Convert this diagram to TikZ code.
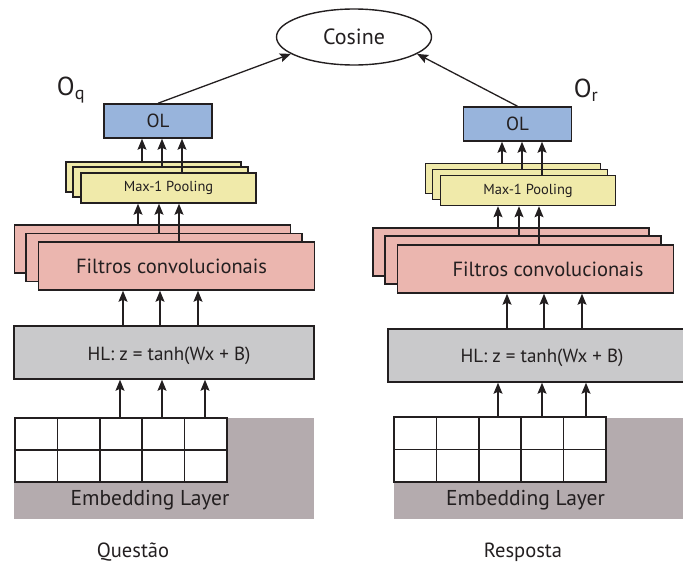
\documentclass[tikz,border=0pt]{standalone}
\usepackage{fontspec}
\setmainfont{PT Sans}
\usetikzlibrary{arrows.meta,shapes.geometric}
\definecolor{ink}{HTML}{231F20}
\definecolor{olblue}{HTML}{98B4DC}
\definecolor{poolyellow}{HTML}{F0EAAA}
\definecolor{filtpink}{HTML}{EBB6AF}
\definecolor{hlgray}{HTML}{C9C9CB}
\definecolor{embgray}{HTML}{B4ABAE}
\begin{document}
\begin{tikzpicture}[x=1pt,y=-1pt,
        box/.style={draw=ink,line width=1.5pt,inner sep=0pt,text=ink},
        olbox/.style={box,fill=olblue,minimum width=108pt,minimum height=34pt,font=\fontsize{19}{21}\selectfont},
        poolbox/.style={box,fill=poolyellow,minimum width=175pt,minimum height=30pt,font=\fontsize{14.5}{17}\selectfont},
        filtbox/.style={box,fill=filtpink,minimum width=276pt,minimum height=48pt},
        hlbox/.style={box,fill=hlgray,minimum height=53pt},
        embbox/.style={fill=embgray,inner sep=0pt,minimum height=101pt},
        cell/.style={draw=ink,line width=1.5pt,fill=white},
        txt/.style={text=ink,inner sep=0pt,font=\fontsize{20.5}{23}\selectfont},
        up/.style={draw=ink,line width=1.3pt,-{Stealth[length=11pt,width=9pt,inset=2pt]}}]
        \useasboundingbox (0,0) rectangle (683,562);
        \node[draw=ink,line width=1.4pt,ellipse,minimum width=155pt,minimum height=56pt,inner sep=0pt,txt,font=\fontsize{22}{24}\selectfont] (cosine) at (354,37) {Cosine};
        % questao
        \node[txt,font=\fontsize{26}{28}\selectfont] (oq) at (71,90) {O\textsubscript{q}};
        \node[olbox] (olq) at (158,121) {OL};
        \node[poolbox] (poolq1) at (153.5,177) {};
        \node[poolbox] (poolq2) at (160.5,182) {};
        \node[poolbox] (poolq) at (168.5,188) {Max-1 Pooling};
        \node[filtbox] (filtq1) at (152.5,249) {};
        \node[filtbox] (filtq2) at (164,257.5) {};
        \node[filtbox] (filtq) at (176.5,266) {};
        \node[txt] (filtqtext) at (171.5,266) {Filtros convolucionais};
        \node[hlbox,minimum width=300pt] (hlq) at (164,352.5) {};
        \node[txt,font=\fontsize{19}{21}\selectfont] (hlqtext) at (169,356) {HL: z = tanh(Wx + B)};
        \node[embbox,minimum width=300pt] (embq) at (164,468.5) {};
        \foreach \i in {0,...,4}
          \foreach \j in {0,1}
            \draw[cell] (15+\i*42.4,418+\j*32) rectangle ++(42.4,32);
        \node[txt,font=\fontsize{21.5}{24}\selectfont] (embqtext) at (150,500) {Embedding Layer};
        \node[txt,font=\fontsize{20.5}{23}\selectfont,anchor=base] (questao) at (133,557) {Questão};
        % resposta
        \node[txt,font=\fontsize{26}{28}\selectfont] (or) at (586,90) {O\textsubscript{r}};
        \node[olbox] (olr) at (517.5,124) {OL};
        \node[poolbox] (poolr1) at (513,178.5) {};
        \node[poolbox] (poolr2) at (520,184.5) {};
        \node[poolbox] (poolr) at (528,190.5) {Max-1 Pooling};
        \node[filtbox] (filtr1) at (511,252) {};
        \node[filtbox] (filtr2) at (523,260) {};
        \node[filtbox] (filtr) at (535.5,269) {};
        \node[txt] (filtrtext) at (548,269) {Filtros convolucionais};
        \node[hlbox,minimum width=297pt] (hlr) at (536.5,355.5) {};
        \node[txt,font=\fontsize{19}{21}\selectfont] (hlrtext) at (542,358) {HL: z = tanh(Wx + B)};
        \node[embbox,minimum width=290pt] (embr) at (539,468) {};
        \foreach \i in {0,...,4}
          \foreach \j in {0,1}
            \draw[cell] (394+\i*42.4,417+\j*32.5) rectangle ++(42.4,32.5);
        \node[txt,font=\fontsize{21.5}{24}\selectfont] (embrtext) at (525.5,500) {Embedding Layer};
        \node[txt,font=\fontsize{20.5}{23}\selectfont,anchor=base] (resposta) at (523,557) {Resposta};
        % setas
        \draw[up] (olq.north) -- (cosine.195);
        \draw[up] (olr.north) -- (cosine.345);
        \foreach \xa/\nd in {142/poolq1,162/poolq2,182/poolq}
          \draw[up] (\nd.north -| \xa,0) -- (olq.south -| \xa,0);
        \foreach \xa/\nd in {502/poolr1,522/poolr2,542/poolr}
          \draw[up] (\nd.north -| \xa,0) -- (olr.south -| \xa,0);
        \foreach \xa/\nd in {138/filtq1,159/filtq2,179/filtq}
          \draw[up] (\nd.north -| \xa,0) -- (poolq.south -| \xa,0);
        \foreach \xa/\nd in {498/filtr1,519/filtr2,539/filtr}
          \draw[up] (\nd.north -| \xa,0) -- (poolr.south -| \xa,0);
        \foreach \xa in {123,160,198}
          \draw[up] (hlq.north -| \xa,0) -- (filtq.south -| \xa,0);
        \foreach \xa in {507,544,582}
          \draw[up] (hlr.north -| \xa,0) -- (filtr.south -| \xa,0);
        \foreach \xa in {120,162,205}
          \draw[up] (embq.north -| \xa,0) -- (hlq.south -| \xa,0);
        \foreach \xa in {498,542,586}
          \draw[up] (embr.north -| \xa,0) -- (hlr.south -| \xa,0);
\end{tikzpicture}
\end{document}
